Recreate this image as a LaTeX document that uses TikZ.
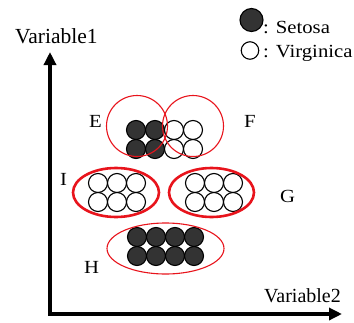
\documentclass[tikz,border=0pt]{standalone}
\usepackage{fontspec}
\setmainfont{Liberation Serif}
\newfontfamily\widefont[FakeStretch=1.12]{Liberation Serif}
\usetikzlibrary{arrows.meta,shapes.geometric}
\definecolor{dotgray}{HTML}{333333}
\definecolor{ringred}{HTML}{E8141C}
\tikzset{
  dark/.style={circle, draw=black, fill=dotgray, minimum size=19pt, inner sep=0pt, line width=1.1pt},
  light/.style={circle, draw=black, fill=white, minimum size=19pt, inner sep=0pt, line width=1.1pt},
  thinring/.style={draw=ringred, line width=1.1pt, inner sep=0pt},
  thickring/.style={draw=ringred, line width=2.6pt, inner sep=0pt},
  lbl/.style={anchor=base west, inner sep=0pt, font=\widefont\fontsize{18.5}{18.5}\selectfont},
  axislbl/.style={anchor=base west, inner sep=0pt},
  axis/.style={line width=3.6pt, {Triangle[length=13pt,width=12pt]}-{Triangle[length=13pt,width=12pt]}}
}
\begin{document}
\begin{tikzpicture}[x=1pt,y=-1pt]
\useasboundingbox (0,0) rectangle (354,322);
% axes
\coordinate (Ytip) at (50,52);
\coordinate (O) at (50,314);
\coordinate (Xtip) at (342,314);
\draw[axis] (Ytip) -- (O) -- (Xtip);
\node[axislbl, font=\fontsize{21.5}{21.5}\selectfont] (v1) at (15,43) {Variable1};
\node[axislbl, font=\fontsize{20}{20}\selectfont] (v2) at (264,302) {Variable2};
% legend
\node[dark, minimum size=23pt] (legS) at (251.5,20) {};
\node[light, minimum size=17.5pt] (legV) at (250,50.5) {};
\node[lbl] (legSt) at (263,33) {: Setosa};
\node[lbl] (legVt) at (263,57) {: Virginica};
% E / F cluster
\foreach \x/\i in {136/1,155/2}{\foreach \y/\j in {130/1,149/2}{\node[dark] (e\i\j) at (\x,\y) {};}}
\foreach \x/\i in {174/1,193/2}{\foreach \y/\j in {130/1,149/2}{\node[light] (f\i\j) at (\x,\y) {};}}
\node[thinring, circle, minimum size=61pt] (Ering) at (137,126) {};
\node[thinring, circle, minimum size=61pt] (Fring) at (193,126) {};
% I cluster
\foreach \x/\i in {98/1,117/2,136/3}{\foreach \y/\j in {183/1,202/2}{\node[light] (i\i\j) at (\x,\y) {};}}
\node[thickring, ellipse, minimum width=86pt, minimum height=49pt] (Iring) at (116,192.5) {};
% G cluster
\foreach \x/\i in {195/1,214/2,233/3}{\foreach \y/\j in {183/1,202/2}{\node[light] (g\i\j) at (\x,\y) {};}}
\node[thickring, ellipse, minimum width=85pt, minimum height=49pt] (Gring) at (211.5,192.5) {};
% H cluster
\foreach \x/\i in {137/1,156/2,175/3,194/4}{\foreach \y/\j in {237/1,256/2}{\node[dark] (h\i\j) at (\x,\y) {};}}
\node[thinring, ellipse, minimum width=117pt, minimum height=51pt] (Hring) at (165.5,248.5) {};
% labels
\node[lbl] (E) at (89,127) {E};
\node[lbl] (F) at (244,127) {F};
\node[lbl] (I) at (60,185) {I};
\node[lbl] (G) at (280,202) {G};
\node[lbl] (H) at (84,273) {H};
\end{tikzpicture}
\end{document}
